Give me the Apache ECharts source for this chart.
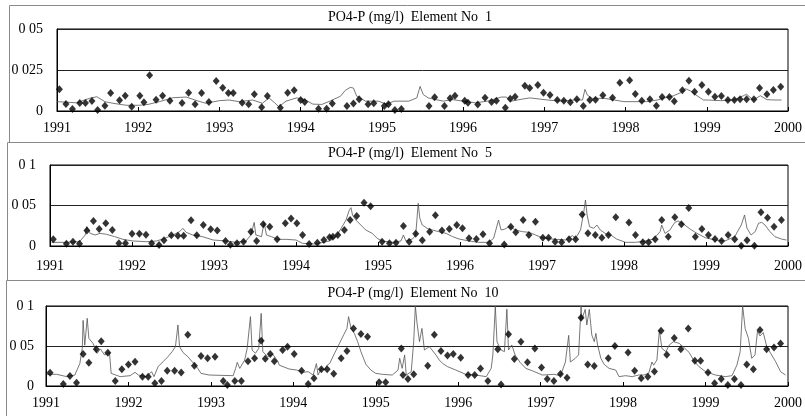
<!DOCTYPE html>
<html>
<head>
<meta charset="utf-8">
<script src="https://cdn.jsdelivr.net/npm/echarts@6/dist/echarts.min.js"></script>
<style>
  html, body { margin: 0; padding: 0; background: #fff; }
  #chart { width: 805px; height: 416px; }
</style>
</head>
<body>
<div id="chart"></div>
<script>
// observed samples (diamonds) and simulated series (thin line), [year, mg/l]
const obs1 = [[1991.03,0.0132],[1991.11,0.0043],[1991.19,0.0012],[1991.28,0.0049],[1991.35,0.0049],[1991.43,0.0061],[1991.50,0.0006],[1991.59,0.0032],[1991.66,0.0110],[1991.77,0.0065],[1991.84,0.0093],[1991.92,0.0026],[1992.02,0.0093],[1992.07,0.0053],[1992.14,0.0218],[1992.22,0.0069],[1992.30,0.0093],[1992.39,0.0063],[1992.54,0.0049],[1992.62,0.0112],[1992.70,0.0041],[1992.78,0.0110],[1992.87,0.0055],[1992.96,0.0183],[1993.04,0.0142],[1993.11,0.0110],[1993.17,0.0110],[1993.28,0.0051],[1993.36,0.0041],[1993.43,0.0102],[1993.52,0.0023],[1993.59,0.0091],[1993.75,0.0020],[1993.84,0.0112],[1993.92,0.0126],[1994.00,0.0067],[1994.05,0.0055],[1994.22,0.0014],[1994.32,0.0014],[1994.39,0.0045],[1994.57,0.0030],[1994.65,0.0045],[1994.72,0.0071],[1994.83,0.0041],[1994.90,0.0047],[1995.03,0.0030],[1995.08,0.0041],[1995.16,0.0006],[1995.24,0.0012],[1995.58,0.0030],[1995.65,0.0084],[1995.77,0.0030],[1995.84,0.0077],[1995.90,0.0093],[1996.02,0.0063],[1996.06,0.0051],[1996.18,0.0039],[1996.27,0.0081],[1996.35,0.0055],[1996.41,0.0063],[1996.52,0.0020],[1996.58,0.0075],[1996.64,0.0087],[1996.76,0.0154],[1996.82,0.0140],[1996.92,0.0159],[1996.99,0.0112],[1997.07,0.0098],[1997.16,0.0067],[1997.24,0.0063],[1997.32,0.0053],[1997.40,0.0071],[1997.48,0.0030],[1997.56,0.0067],[1997.63,0.0069],[1997.72,0.0096],[1997.84,0.0081],[1997.93,0.0173],[1998.05,0.0187],[1998.12,0.0104],[1998.20,0.0063],[1998.30,0.0071],[1998.38,0.0032],[1998.45,0.0085],[1998.54,0.0085],[1998.60,0.0059],[1998.70,0.0126],[1998.78,0.0185],[1998.85,0.0118],[1998.94,0.0159],[1999.02,0.0118],[1999.10,0.0087],[1999.18,0.0091],[1999.26,0.0067],[1999.34,0.0067],[1999.41,0.0071],[1999.49,0.0071],[1999.58,0.0071],[1999.65,0.0140],[1999.74,0.0102],[1999.82,0.0128],[1999.91,0.0148]];

const sim1 = [[1991.00,0.0057],[1991.24,0.0050],[1991.40,0.0077],[1991.49,0.0087],[1991.59,0.0057],[1991.69,0.0047],[1991.85,0.0035],[1992.02,0.0035],[1992.12,0.0040],[1992.26,0.0057],[1992.43,0.0081],[1992.59,0.0085],[1992.71,0.0065],[1992.83,0.0047],[1993.00,0.0063],[1993.12,0.0067],[1993.24,0.0057],[1993.41,0.0067],[1993.53,0.0047],[1993.61,0.0080],[1993.68,0.0050],[1993.73,0.0026],[1993.82,0.0060],[1993.95,0.0080],[1994.05,0.0070],[1994.15,0.0042],[1994.26,0.0040],[1994.36,0.0060],[1994.49,0.0090],[1994.55,0.0126],[1994.61,0.0144],[1994.65,0.0140],[1994.69,0.0090],[1994.80,0.0060],[1994.96,0.0060],[1995.05,0.0042],[1995.15,0.0060],[1995.33,0.0060],[1995.43,0.0080],[1995.47,0.0150],[1995.51,0.0100],[1995.57,0.0080],[1995.66,0.0070],[1995.76,0.0060],[1995.86,0.0070],[1996.00,0.0060],[1996.15,0.0050],[1996.30,0.0060],[1996.47,0.0085],[1996.53,0.0085],[1996.59,0.0060],[1996.70,0.0070],[1996.82,0.0080],[1997.04,0.0067],[1997.20,0.0060],[1997.37,0.0067],[1997.47,0.0067],[1997.50,0.0132],[1997.53,0.0097],[1997.59,0.0077],[1997.74,0.0077],[1997.86,0.0067],[1997.98,0.0057],[1998.14,0.0057],[1998.26,0.0057],[1998.39,0.0067],[1998.49,0.0081],[1998.59,0.0093],[1998.68,0.0112],[1998.74,0.0136],[1998.80,0.0122],[1998.88,0.0093],[1998.96,0.0067],[1999.02,0.0067],[1999.17,0.0063],[1999.33,0.0067],[1999.45,0.0093],[1999.49,0.0102],[1999.57,0.0067],[1999.66,0.0093],[1999.74,0.0069],[1999.84,0.0067],[1999.92,0.0067]];

const obs5 = [[1991.04,0.0083],[1991.20,0.0028],[1991.28,0.0053],[1991.36,0.0028],[1991.45,0.0190],[1991.53,0.0310],[1991.60,0.0210],[1991.68,0.0280],[1991.76,0.0198],[1991.84,0.0033],[1991.92,0.0033],[1992.00,0.0152],[1992.09,0.0152],[1992.17,0.0140],[1992.24,0.0033],[1992.33,0.0012],[1992.39,0.0070],[1992.48,0.0132],[1992.56,0.0128],[1992.63,0.0128],[1992.72,0.0317],[1992.79,0.0132],[1992.87,0.0260],[1992.96,0.0206],[1993.04,0.0190],[1993.14,0.0062],[1993.20,0.0016],[1993.28,0.0033],[1993.36,0.0053],[1993.45,0.0177],[1993.52,0.0062],[1993.60,0.0268],[1993.68,0.0238],[1993.77,0.0083],[1993.87,0.0280],[1993.94,0.0340],[1994.01,0.0280],[1994.08,0.0136],[1994.16,0.0025],[1994.26,0.0040],[1994.34,0.0074],[1994.41,0.0107],[1994.45,0.0115],[1994.51,0.0136],[1994.59,0.0198],[1994.66,0.0320],[1994.74,0.0370],[1994.83,0.0535],[1994.91,0.0490],[1995.05,0.0053],[1995.14,0.0033],[1995.22,0.0040],[1995.31,0.0247],[1995.38,0.0053],[1995.46,0.0152],[1995.54,0.0070],[1995.63,0.0177],[1995.70,0.0380],[1995.78,0.0190],[1995.87,0.0210],[1995.96,0.0260],[1996.03,0.0218],[1996.11,0.0095],[1996.20,0.0086],[1996.28,0.0144],[1996.36,0.0033],[1996.54,0.0020],[1996.62,0.0238],[1996.68,0.0169],[1996.77,0.0320],[1996.84,0.0136],[1996.92,0.0300],[1997.01,0.0103],[1997.08,0.0103],[1997.16,0.0053],[1997.24,0.0045],[1997.33,0.0083],[1997.41,0.0083],[1997.49,0.0390],[1997.56,0.0157],[1997.65,0.0136],[1997.73,0.0103],[1997.81,0.0136],[1997.90,0.0354],[1998.06,0.0290],[1998.14,0.0136],[1998.23,0.0045],[1998.30,0.0045],[1998.38,0.0083],[1998.46,0.0320],[1998.54,0.0115],[1998.62,0.0354],[1998.70,0.0268],[1998.79,0.0470],[1998.87,0.0115],[1998.95,0.0210],[1999.03,0.0136],[1999.11,0.0086],[1999.19,0.0062],[1999.27,0.0136],[1999.35,0.0083],[1999.43,0.0004],[1999.50,0.0070],[1999.59,0.0004],[1999.67,0.0416],[1999.75,0.0350],[1999.83,0.0238],[1999.92,0.0320]];

const sim5 = [[1991.02,0.0045],[1991.20,0.0045],[1991.36,0.0053],[1991.43,0.0136],[1991.45,0.0239],[1991.49,0.0156],[1991.55,0.0136],[1991.61,0.0156],[1991.69,0.0144],[1991.79,0.0115],[1991.89,0.0082],[1992.01,0.0062],[1992.18,0.0053],[1992.30,0.0062],[1992.40,0.0095],[1992.50,0.0136],[1992.58,0.0177],[1992.62,0.0218],[1992.66,0.0169],[1992.74,0.0136],[1992.86,0.0115],[1992.99,0.0074],[1993.15,0.0062],[1993.27,0.0045],[1993.39,0.0062],[1993.45,0.0136],[1993.49,0.0292],[1993.51,0.0136],[1993.58,0.0115],[1993.61,0.0292],[1993.64,0.0136],[1993.70,0.0115],[1993.78,0.0082],[1993.88,0.0082],[1994.00,0.0074],[1994.08,0.0033],[1994.24,0.0025],[1994.41,0.0062],[1994.49,0.0115],[1994.55,0.0218],[1994.61,0.0320],[1994.65,0.0444],[1994.67,0.0473],[1994.69,0.0380],[1994.73,0.0320],[1994.79,0.0259],[1994.85,0.0198],[1994.93,0.0156],[1994.99,0.0095],[1995.05,0.0062],[1995.18,0.0045],[1995.28,0.0062],[1995.31,0.0136],[1995.34,0.0062],[1995.42,0.0086],[1995.46,0.0136],[1995.49,0.0527],[1995.51,0.0342],[1995.54,0.0259],[1995.60,0.0218],[1995.66,0.0198],[1995.74,0.0177],[1995.83,0.0156],[1995.91,0.0115],[1995.99,0.0086],[1996.11,0.0062],[1996.23,0.0045],[1996.35,0.0045],[1996.41,0.0095],[1996.47,0.0320],[1996.50,0.0198],[1996.54,0.0206],[1996.60,0.0239],[1996.68,0.0198],[1996.76,0.0177],[1996.84,0.0169],[1996.92,0.0136],[1997.00,0.0103],[1997.12,0.0086],[1997.29,0.0074],[1997.37,0.0128],[1997.41,0.0095],[1997.47,0.0198],[1997.51,0.0424],[1997.53,0.0568],[1997.55,0.0383],[1997.58,0.0239],[1997.63,0.0218],[1997.67,0.0259],[1997.71,0.0198],[1997.77,0.0156],[1997.85,0.0128],[1997.91,0.0086],[1998.02,0.0045],[1998.14,0.0045],[1998.26,0.0062],[1998.36,0.0086],[1998.44,0.0177],[1998.46,0.0259],[1998.50,0.0156],[1998.56,0.0198],[1998.62,0.0292],[1998.66,0.0309],[1998.73,0.0268],[1998.81,0.0206],[1998.89,0.0156],[1998.99,0.0103],[1999.11,0.0074],[1999.23,0.0062],[1999.35,0.0115],[1999.43,0.0259],[1999.47,0.0383],[1999.50,0.0218],[1999.55,0.0136],[1999.60,0.0177],[1999.64,0.0280],[1999.68,0.0292],[1999.72,0.0259],[1999.78,0.0177],[1999.84,0.0115],[1999.92,0.0086],[1999.98,0.0074]];

const obs10 = [[1991.05,0.0167],[1991.21,0.0025],[1991.29,0.0125],[1991.37,0.0040],[1991.45,0.0400],[1991.52,0.0290],[1991.61,0.0460],[1991.67,0.0560],[1991.75,0.0417],[1991.84,0.0063],[1991.92,0.0210],[1992.00,0.0270],[1992.08,0.0304],[1992.17,0.0117],[1992.24,0.0117],[1992.32,0.0033],[1992.40,0.0063],[1992.47,0.0190],[1992.56,0.0190],[1992.64,0.0170],[1992.72,0.0640],[1992.80,0.0254],[1992.88,0.0375],[1992.96,0.0346],[1993.05,0.0367],[1993.15,0.0063],[1993.20,0.0012],[1993.29,0.0063],[1993.37,0.0063],[1993.45,0.0310],[1993.53,0.0346],[1993.61,0.0567],[1993.66,0.0340],[1993.72,0.0400],[1993.77,0.0310],[1993.87,0.0450],[1993.93,0.0490],[1994.01,0.0400],[1994.10,0.0190],[1994.18,0.0025],[1994.25,0.0096],[1994.34,0.0210],[1994.41,0.0210],[1994.49,0.0154],[1994.58,0.0346],[1994.65,0.0437],[1994.73,0.0720],[1994.82,0.0650],[1994.90,0.0617],[1995.04,0.0046],[1995.12,0.0046],[1995.31,0.0470],[1995.33,0.0137],[1995.39,0.0088],[1995.46,0.0146],[1995.63,0.0254],[1995.71,0.0640],[1995.79,0.0437],[1995.87,0.0380],[1995.94,0.0400],[1996.03,0.0354],[1996.12,0.0137],[1996.20,0.0137],[1996.27,0.0220],[1996.36,0.0063],[1996.48,0.0460],[1996.52,0.0020],[1996.61,0.0646],[1996.68,0.0337],[1996.76,0.0554],[1996.84,0.0296],[1996.93,0.0470],[1997.01,0.0230],[1997.08,0.0088],[1997.16,0.0063],[1997.24,0.0150],[1997.32,0.0104],[1997.49,0.0854],[1997.57,0.0270],[1997.65,0.0250],[1997.82,0.0346],[1997.90,0.0500],[1998.06,0.0420],[1998.14,0.0190],[1998.22,0.0096],[1998.30,0.0117],[1998.38,0.0180],[1998.46,0.0690],[1998.53,0.0390],[1998.62,0.0600],[1998.70,0.0460],[1998.79,0.0720],[1998.87,0.0317],[1998.94,0.0317],[1999.03,0.0170],[1999.11,0.0033],[1999.19,0.0088],[1999.27,0.0012],[1999.35,0.0088],[1999.43,0.0012],[1999.50,0.0270],[1999.58,0.0210],[1999.66,0.0700],[1999.74,0.0460],[1999.83,0.0480],[1999.91,0.0530]];

const sim10 = [[1991.01,0.0146],[1991.13,0.0146],[1991.25,0.0117],[1991.35,0.0137],[1991.41,0.0280],[1991.44,0.0470],[1991.45,0.0820],[1991.47,0.0510],[1991.50,0.0846],[1991.52,0.0596],[1991.57,0.0533],[1991.62,0.0408],[1991.66,0.0463],[1991.71,0.0388],[1991.77,0.0421],[1991.79,0.0158],[1991.90,0.0117],[1992.02,0.0129],[1992.08,0.0171],[1992.12,0.0137],[1992.22,0.0117],[1992.28,0.0179],[1992.31,0.0117],[1992.36,0.0242],[1992.42,0.0304],[1992.48,0.0367],[1992.53,0.0429],[1992.57,0.0492],[1992.60,0.0763],[1992.62,0.0492],[1992.66,0.0421],[1992.72,0.0367],[1992.78,0.0296],[1992.84,0.0221],[1992.88,0.0158],[1992.98,0.0137],[1993.27,0.0129],[1993.30,0.0220],[1993.32,0.0296],[1993.35,0.0220],[1993.41,0.0325],[1993.44,0.0470],[1993.48,0.0867],[1993.50,0.0450],[1993.54,0.0408],[1993.58,0.0470],[1993.61,0.0908],[1993.63,0.0429],[1993.69,0.0367],[1993.75,0.0396],[1993.81,0.0313],[1993.83,0.0260],[1993.95,0.0212],[1994.04,0.0200],[1994.12,0.0171],[1994.18,0.0179],[1994.24,0.0137],[1994.28,0.0280],[1994.30,0.0137],[1994.34,0.0220],[1994.38,0.0200],[1994.41,0.0260],[1994.44,0.0280],[1994.50,0.0408],[1994.56,0.0533],[1994.61,0.0638],[1994.65,0.0720],[1994.67,0.0867],[1994.70,0.0720],[1994.74,0.0658],[1994.78,0.0554],[1994.82,0.0429],[1994.88,0.0271],[1994.94,0.0200],[1995.00,0.0158],[1995.08,0.0146],[1995.20,0.0137],[1995.27,0.0200],[1995.29,0.0346],[1995.32,0.0221],[1995.35,0.0388],[1995.37,0.0137],[1995.43,0.0179],[1995.46,0.0554],[1995.48,0.1000],[1995.50,0.0790],[1995.53,0.0554],[1995.56,0.0720],[1995.59,0.0450],[1995.65,0.0492],[1995.73,0.0388],[1995.77,0.0325],[1995.81,0.0283],[1995.87,0.0242],[1995.97,0.0200],[1996.09,0.0146],[1996.21,0.0137],[1996.34,0.0117],[1996.40,0.0220],[1996.42,0.0388],[1996.45,0.1000],[1996.47,0.0554],[1996.52,0.0450],[1996.56,0.0429],[1996.59,0.0960],[1996.61,0.0450],[1996.65,0.0513],[1996.69,0.0388],[1996.75,0.0296],[1996.82,0.0220],[1996.90,0.0190],[1997.02,0.0137],[1997.16,0.0146],[1997.24,0.0129],[1997.30,0.0300],[1997.34,0.0633],[1997.36,0.0300],[1997.42,0.0346],[1997.46,0.0388],[1997.49,0.1000],[1997.50,0.0833],[1997.54,0.0958],[1997.56,0.0763],[1997.59,0.0958],[1997.62,0.0638],[1997.65,0.0554],[1997.67,0.0658],[1997.69,0.0513],[1997.73,0.0346],[1997.77,0.0271],[1997.83,0.0220],[1997.91,0.0200],[1997.95,0.0117],[1998.03,0.0129],[1998.11,0.0117],[1998.19,0.0137],[1998.25,0.0137],[1998.31,0.0158],[1998.35,0.0300],[1998.37,0.0260],[1998.41,0.0325],[1998.44,0.0700],[1998.47,0.0470],[1998.52,0.0429],[1998.56,0.0513],[1998.61,0.0554],[1998.68,0.0533],[1998.74,0.0479],[1998.80,0.0421],[1998.86,0.0313],[1998.92,0.0242],[1999.00,0.0179],[1999.12,0.0137],[1999.24,0.0117],[1999.32,0.0129],[1999.38,0.0260],[1999.42,0.0429],[1999.45,0.1000],[1999.48,0.0720],[1999.52,0.0596],[1999.56,0.0346],[1999.60,0.0388],[1999.63,0.0688],[1999.66,0.0625],[1999.70,0.0667],[1999.74,0.0500],[1999.79,0.0408],[1999.85,0.0304],[1999.91,0.0179],[1999.97,0.0137]];

const titles = ["PO4-P (mg/l)  Element No  1", "PO4-P (mg/l)  Element No  5", "PO4-P (mg/l)  Element No  10"];
const yMax = [0.05, 0.1, 0.1];
const yStep = [0.025, 0.05, 0.05];

const FONT = "Liberation Serif";

// layout of the three stacked panels (px)
const panels = [
  { grid: { left: 57, top: 29, right: 14, height: 82 }, labelMargin: 14, xMargin: 10, titleTop: 10, titleX: 410, frame: [9, 5, 810, 137] },
  { grid: { left: 50, top: 165, right: 15, height: 81 }, labelMargin: 14, xMargin: 13, titleTop: 146, titleX: 410, frame: [7, 142, 810, 138] },
  { grid: { left: 46, top: 306, right: 16, height: 80 }, labelMargin: 12, xMargin: 10, titleTop: 286, titleX: 413, frame: [6, 280, 810, 140] }
];

const obsSets = [obs1, obs5, obs10];
const simSets = [sim1, sim5, sim10];

const yLabel = (v) => (v === 0 ? "0" : String(+v.toFixed(3)).replace(".", " "));

const chart = echarts.init(document.getElementById("chart"));

const option = {
  animation: false,
  backgroundColor: "#fff",
  title: panels.map((p, i) => ({
    text: titles[i],
    left: p.titleX,
    top: p.titleTop,
    textAlign: "center",
    padding: 0,
    textStyle: { fontFamily: FONT, fontSize: 14, fontWeight: "normal", color: "#000" }
  })),
  graphic: panels.map((p) => ({
    type: "rect",
    silent: true,
    z: -1,
    shape: { x: p.frame[0] + 0.5, y: p.frame[1] + 0.5, width: p.frame[2], height: p.frame[3] },
    style: { fill: null, stroke: "#8a8a8a", lineWidth: 1 }
  })),
  grid: panels.map((p) => Object.assign({ show: true, borderColor: "#000", borderWidth: 1, backgroundColor: "transparent" }, p.grid)),
  xAxis: panels.map((p, i) => ({
    type: "value",
    gridIndex: i,
    min: 1991,
    max: 2000,
    interval: 1,
    axisLine: { show: true, lineStyle: { color: "#000", width: 1 } },
    axisTick: { show: true, inside: true, length: 4, lineStyle: { color: "#000" } },
    splitLine: { show: false },
    axisLabel: { color: "#000", fontFamily: FONT, fontSize: 14, margin: p.xMargin, formatter: (v) => String(v) }
  })),
  yAxis: panels.map((p, i) => ({
    type: "value",
    gridIndex: i,
    min: 0,
    max: yMax[i],
    interval: yStep[i],
    axisLine: { show: true, lineStyle: { color: "#000" } },
    axisTick: { show: false },
    splitLine: { show: true, lineStyle: { color: "#222", width: 1 } },
    axisLabel: { color: "#000", fontFamily: FONT, fontSize: 14, margin: p.labelMargin, formatter: yLabel }
  })),
  series: [].concat(
    simSets.map((d, i) => ({
      type: "line",
      xAxisIndex: i,
      yAxisIndex: i,
      data: d,
      showSymbol: false,
      symbol: "none",
      lineStyle: { color: "#555", width: 0.8 },
      z: 2
    })),
    obsSets.map((d, i) => ({
      type: "scatter",
      xAxisIndex: i,
      yAxisIndex: i,
      data: d,
      symbol: "diamond",
      symbolSize: [7, 8],
      itemStyle: { color: "#000" },
      z: 3
    }))
  )
};

chart.setOption(option);
</script>
</body>
</html>
